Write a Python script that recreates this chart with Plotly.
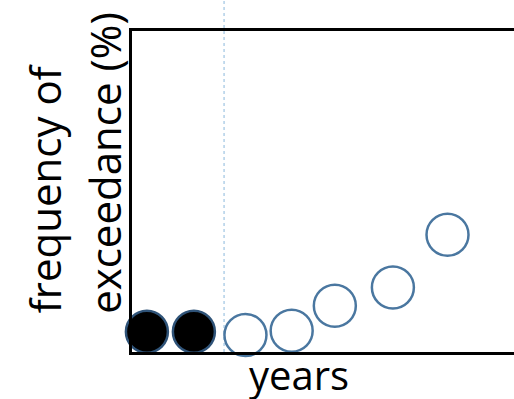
import plotly.graph_objects as go

# valores (posicion en x = indice de año, y = frecuencia %)
x_obs = [0.39, 1.62]
y_obs = [6.3, 6.3]
x_fut = [2.97, 4.18, 5.31, 6.83, 8.26]
y_fut = [5.3, 6.6, 14.4, 20.1, 36.5]
x_corte = 2.41

fig = go.Figure()

fig.add_trace(go.Scatter(
    x=x_obs, y=y_obs, mode="markers", cliponaxis=False,
    marker=dict(size=42, color="black", line=dict(color="#2f5378", width=2.5)),
    showlegend=False
))
fig.add_trace(go.Scatter(
    x=x_fut, y=y_fut, mode="markers", cliponaxis=False,
    marker=dict(size=42, color="white", line=dict(color="#4a77a0", width=2.5)),
    showlegend=False
))

# linea punteada vertical
fig.add_shape(type="line", xref="x", yref="paper", x0=x_corte, x1=x_corte, y0=0, y1=1.1,
              line=dict(color="#8ab8dc", width=1, dash="dot"), layer="below")

fig.add_annotation(text="years", xref="paper", yref="paper", x=0.427, y=-0.07,
                   xanchor="center", yanchor="middle", showarrow=False,
                   font=dict(family="Open Sans", size=40, color="black"))
fig.add_annotation(text="frequency of", xref="paper", yref="paper", x=-0.224, y=0.113,
                   xanchor="center", yanchor="bottom", textangle=-90, showarrow=False,
                   font=dict(family="Open Sans", size=42, color="black"))
fig.add_annotation(text="exceedance (%)", xref="paper", yref="paper", x=-0.069, y=0.113,
                   xanchor="center", yanchor="bottom", textangle=-90, showarrow=False,
                   font=dict(family="Open Sans", size=42, color="black"))

# el lado derecho del recuadro queda fuera de la imagen
fig.update_layout(
    width=522, height=399,
    margin=dict(l=132, r=0, t=31, b=47),
    plot_bgcolor="white", paper_bgcolor="white",
    xaxis=dict(range=[0, 10.21], showgrid=False, zeroline=False, showticklabels=False,
               ticks="", showline=True, mirror=True, linecolor="black", linewidth=2.5),
    yaxis=dict(range=[0, 100], showgrid=False, zeroline=False, showticklabels=False,
               ticks="", showline=True, linecolor="black", linewidth=2.5),
)

fig.write_html("out.html", config={"displayModeBar": False},
               post_script="document.body.style.margin='0';document.body.style.overflow='hidden';")
